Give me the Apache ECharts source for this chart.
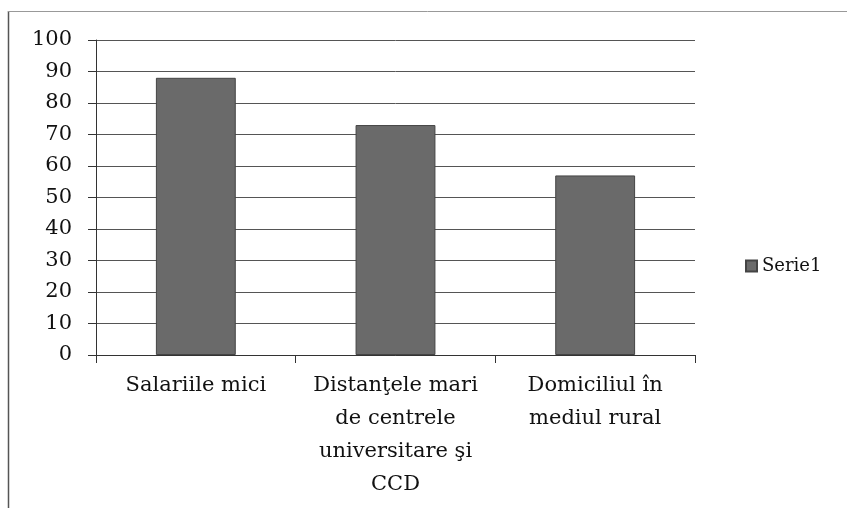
<!DOCTYPE html>
<html><head><meta charset="utf-8">
<script src="https://cdn.jsdelivr.net/npm/echarts@6/dist/echarts.min.js"></script>
<style>html,body{margin:0;padding:0;background:#fff}#c{width:847px;height:508px}</style>
</head><body><div id="c"></div>
<script>
const categories = ['Salariile mici', 'Distanţele mari\nde centrele\nuniversitare şi\nCCD', 'Domiciliul în\nmediul rural'];
const seriesName = 'Serie1';
const values = [88, 73, 57];
const yTicks = {min: 0, max: 100, interval: 10};

const font = 'DejaVu Serif';
const chart = echarts.init(document.getElementById('c'));
chart.setOption({
  animation: false,
  backgroundColor: '#fff',
  graphic: [
    {type: 'line', shape: {x1: 8.5, y1: 11, x2: 8.5, y2: 508}, style: {stroke: '#555', lineWidth: 1.5}},
    {type: 'line', shape: {x1: 8, y1: 11.5, x2: 847, y2: 11.5}, style: {stroke: '#999', lineWidth: 1}}
  ],
  grid: {left: 96, right: 152, top: 40, bottom: 153},
  legend: {
    orient: 'vertical', left: 740, top: 252,
    itemWidth: 11, itemHeight: 11, itemGap: 6,
    textStyle: {fontFamily: font, fontSize: 18, color: '#111'},
    data: [{name: seriesName, icon: 'rect'}]
  },
  xAxis: {
    type: 'category', data: categories,
    axisLine: {lineStyle: {color: '#333', width: 1}},
    axisTick: {show: true, length: 8, lineStyle: {color: '#333'}},
    axisLabel: {fontFamily: font, fontSize: 21, color: '#111', margin: 14, lineHeight: 33, interval: 0}
  },
  yAxis: {
    type: 'value', min: yTicks.min, max: yTicks.max, interval: yTicks.interval,
    axisLine: {show: true, lineStyle: {color: '#333', width: 1}},
    axisTick: {show: true, length: 8, lineStyle: {color: '#333'}},
    axisLabel: {fontFamily: font, fontSize: 21, color: '#111', margin: 24},
    splitLine: {lineStyle: {color: '#555', width: 1}}
  },
  series: [{
    name: seriesName, type: 'bar', data: values, barWidth: '40%',
    itemStyle: {color: '#6a6a6a', borderColor: '#444', borderWidth: 1}
  }]
});
</script></body></html>
